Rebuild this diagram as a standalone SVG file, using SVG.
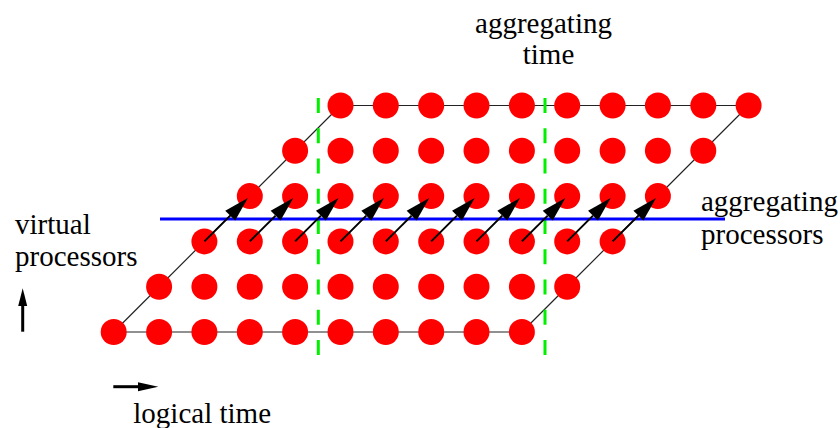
<svg xmlns="http://www.w3.org/2000/svg" width="840" height="428" viewBox="0 0 840 428">
<style>
.dot{fill:#ff0000}
.edge{stroke:#222;stroke-width:1.2;fill:none}
.arr{stroke:#000;stroke-width:2;marker-end:url(#ah)}
.lbl{font-family:"Liberation Serif","Times New Roman",serif;font-size:29px;fill:#000}
.ax{stroke:#000;stroke-width:3}
</style>
<defs>
<marker id="ah" markerUnits="userSpaceOnUse" markerWidth="25" markerHeight="14" refX="0" refY="7" orient="auto" viewBox="0 0 25 14" overflow="visible"><path d="M0,0 L25,7 L0,14 Z" fill="#000"/></marker>
</defs>
<rect width="840" height="428" fill="#fff"/>
<g id="outline">
<line class="edge" x1="113.7" y1="332" x2="521.9" y2="332"/>
<line class="edge" x1="340.5" y1="105.5" x2="748.6" y2="105.5"/>
<line class="edge" x1="113.7" y1="332" x2="340.5" y2="105.5"/>
<line class="edge" x1="521.9" y1="332" x2="748.6" y2="105.5"/>
</g>
<g id="aggregation-lines">
<line x1="318.3" y1="98" x2="318.3" y2="356" stroke="#00f000" stroke-width="3" stroke-dasharray="15 15.25"/>
<line x1="545" y1="98" x2="545" y2="356" stroke="#00f000" stroke-width="3" stroke-dasharray="15 15.25"/>
<line x1="160" y1="219" x2="725" y2="219" stroke="#0000ff" stroke-width="3"/>
</g>
<g id="nodes">
<g id="r0"><circle class="dot" cx="113.7" cy="332" r="13"/><circle class="dot" cx="159.1" cy="332" r="13"/><circle class="dot" cx="204.4" cy="332" r="13"/><circle class="dot" cx="249.8" cy="332" r="13"/><circle class="dot" cx="295.1" cy="332" r="13"/><circle class="dot" cx="340.5" cy="332" r="13"/><circle class="dot" cx="385.8" cy="332" r="13"/><circle class="dot" cx="431.2" cy="332" r="13"/><circle class="dot" cx="476.5" cy="332" r="13"/><circle class="dot" cx="521.9" cy="332" r="13"/></g>
<g id="r1"><circle class="dot" cx="159.1" cy="286.7" r="13"/><circle class="dot" cx="204.4" cy="286.7" r="13"/><circle class="dot" cx="249.8" cy="286.7" r="13"/><circle class="dot" cx="295.1" cy="286.7" r="13"/><circle class="dot" cx="340.5" cy="286.7" r="13"/><circle class="dot" cx="385.8" cy="286.7" r="13"/><circle class="dot" cx="431.2" cy="286.7" r="13"/><circle class="dot" cx="476.5" cy="286.7" r="13"/><circle class="dot" cx="521.9" cy="286.7" r="13"/><circle class="dot" cx="567.2" cy="286.7" r="13"/></g>
<g id="r2"><circle class="dot" cx="204.4" cy="241.4" r="13"/><circle class="dot" cx="249.8" cy="241.4" r="13"/><circle class="dot" cx="295.1" cy="241.4" r="13"/><circle class="dot" cx="340.5" cy="241.4" r="13"/><circle class="dot" cx="385.8" cy="241.4" r="13"/><circle class="dot" cx="431.2" cy="241.4" r="13"/><circle class="dot" cx="476.5" cy="241.4" r="13"/><circle class="dot" cx="521.9" cy="241.4" r="13"/><circle class="dot" cx="567.2" cy="241.4" r="13"/><circle class="dot" cx="612.6" cy="241.4" r="13"/></g>
<g id="r3"><circle class="dot" cx="249.8" cy="196.1" r="13"/><circle class="dot" cx="295.1" cy="196.1" r="13"/><circle class="dot" cx="340.5" cy="196.1" r="13"/><circle class="dot" cx="385.8" cy="196.1" r="13"/><circle class="dot" cx="431.2" cy="196.1" r="13"/><circle class="dot" cx="476.5" cy="196.1" r="13"/><circle class="dot" cx="521.9" cy="196.1" r="13"/><circle class="dot" cx="567.2" cy="196.1" r="13"/><circle class="dot" cx="612.6" cy="196.1" r="13"/><circle class="dot" cx="657.9" cy="196.1" r="13"/></g>
<g id="r4"><circle class="dot" cx="295.1" cy="150.8" r="13"/><circle class="dot" cx="340.5" cy="150.8" r="13"/><circle class="dot" cx="385.8" cy="150.8" r="13"/><circle class="dot" cx="431.2" cy="150.8" r="13"/><circle class="dot" cx="476.5" cy="150.8" r="13"/><circle class="dot" cx="521.9" cy="150.8" r="13"/><circle class="dot" cx="567.2" cy="150.8" r="13"/><circle class="dot" cx="612.6" cy="150.8" r="13"/><circle class="dot" cx="657.9" cy="150.8" r="13"/><circle class="dot" cx="703.3" cy="150.8" r="13"/></g>
<g id="r5"><circle class="dot" cx="340.5" cy="105.5" r="13"/><circle class="dot" cx="385.8" cy="105.5" r="13"/><circle class="dot" cx="431.2" cy="105.5" r="13"/><circle class="dot" cx="476.5" cy="105.5" r="13"/><circle class="dot" cx="521.9" cy="105.5" r="13"/><circle class="dot" cx="567.2" cy="105.5" r="13"/><circle class="dot" cx="612.6" cy="105.5" r="13"/><circle class="dot" cx="657.9" cy="105.5" r="13"/><circle class="dot" cx="703.3" cy="105.5" r="13"/><circle class="dot" cx="748.6" cy="105.5" r="13"/></g>
</g>
<g id="connectors">
<line class="arr" x1="204.4" y1="241.4" x2="230.2" y2="215.6"/>
<line class="arr" x1="249.8" y1="241.4" x2="275.6" y2="215.6"/>
<line class="arr" x1="295.1" y1="241.4" x2="320.9" y2="215.6"/>
<line class="arr" x1="340.5" y1="241.4" x2="366.3" y2="215.6"/>
<line class="arr" x1="385.8" y1="241.4" x2="411.6" y2="215.6"/>
<line class="arr" x1="431.2" y1="241.4" x2="457" y2="215.6"/>
<line class="arr" x1="476.5" y1="241.4" x2="502.3" y2="215.6"/>
<line class="arr" x1="521.9" y1="241.4" x2="547.7" y2="215.6"/>
<line class="arr" x1="567.2" y1="241.4" x2="593" y2="215.6"/>
<line class="arr" x1="612.6" y1="241.4" x2="638.4" y2="215.6"/>
</g>
<g id="axes">
<line class="ax" x1="22.7" y1="331.7" x2="22.7" y2="304"/>
<polygon points="22.7,288.3 18.2,306 27.2,306" fill="#000"/>
<line class="ax" x1="113.3" y1="386.7" x2="140" y2="386.7"/>
<polygon points="158.3,386.7 138,382.2 138,391.2" fill="#000"/>
</g>
<g id="labels">
<text class="lbl" x="543.5" y="33" text-anchor="middle">aggregating</text>
<text class="lbl" x="548.5" y="64" text-anchor="middle">time</text>
<text class="lbl" x="701" y="211">aggregating</text>
<text class="lbl" x="701" y="243.5">processors</text>
<text class="lbl" x="15" y="234">virtual</text>
<text class="lbl" x="15" y="265.5">processors</text>
<text class="lbl" x="133.3" y="423">logical time</text>
</g>
</svg>
